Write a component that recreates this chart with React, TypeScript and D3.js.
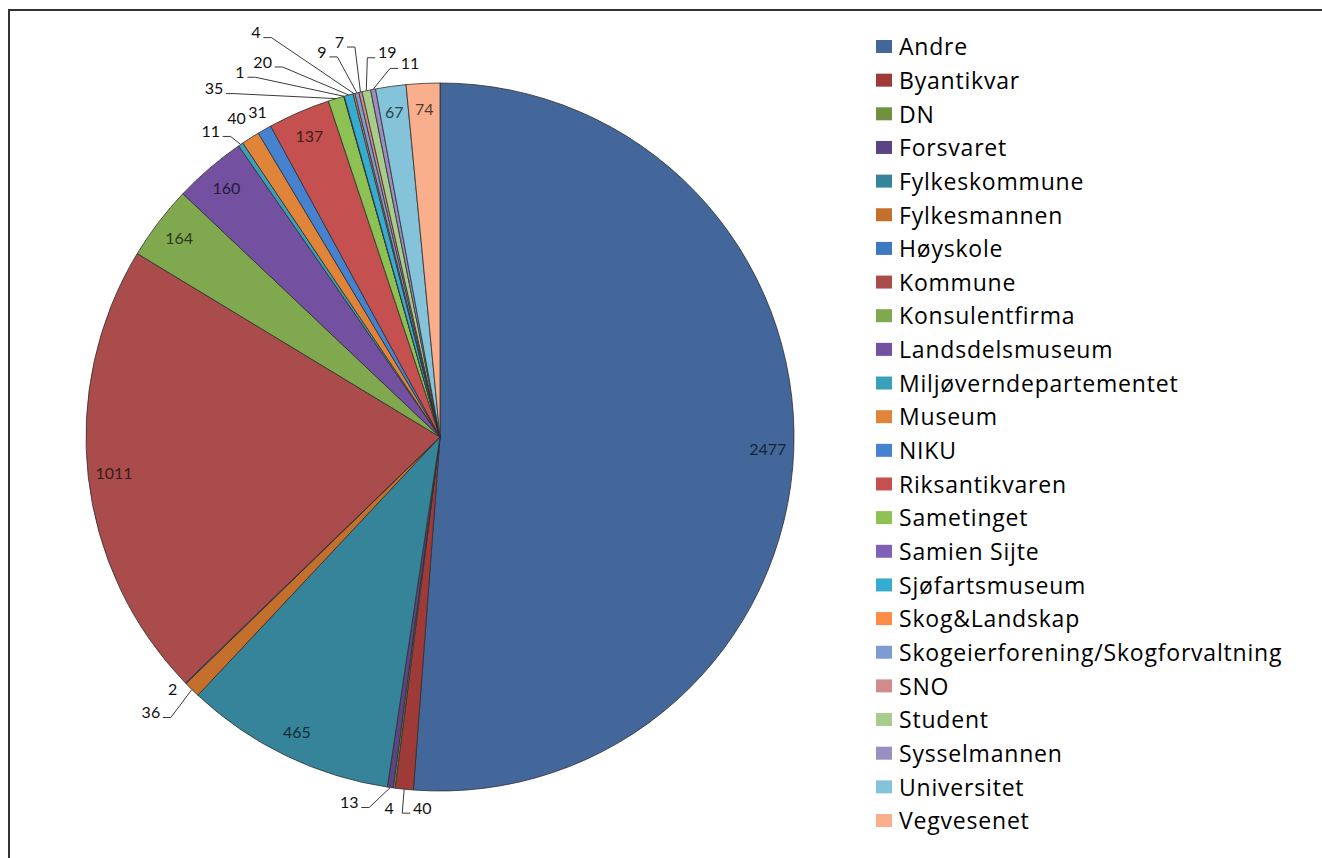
import * as d3 from "d3";

const categories = [
  "Andre", "Byantikvar", "DN", "Forsvaret", "Fylkeskommune", "Fylkesmannen",
  "Høyskole", "Kommune", "Konsulentfirma", "Landsdelsmuseum",
  "Miljøverndepartementet", "Museum", "NIKU", "Riksantikvaren", "Sametinget",
  "Samien Sijte", "Sjøfartsmuseum", "Skog&Landskap",
  "Skogeierforening/Skogforvaltning", "SNO", "Student", "Sysselmannen",
  "Universitet", "Vegvesenet",
];
const counts = [
  2477, 40, 4, 13, 465, 36, 2, 1011, 164, 160, 11, 40, 31, 137, 35, 1, 20, 4,
  9, 7, 19, 11, 67, 74,
];
const sliceColors = [
  "#44679b", "#9e3b38", "#6f9140", "#5b4484", "#35849a", "#c46f2c",
  "#3f78c0", "#a94c4b", "#80a84e", "#7351a0", "#3aa0b9", "#e0843a",
  "#4682d0", "#c45150", "#8ec154", "#7f62b6", "#36add0", "#fb8d48",
  "#7d9cd4", "#d28b8b", "#a8cc8c", "#9b8dc0", "#85c3da", "#f9ae8c",
];

// slices whose value sits inside the pie
const insideNames = [
  "Andre", "Fylkeskommune", "Kommune", "Konsulentfirma", "Landsdelsmuseum",
  "Riksantikvaren", "Universitet", "Vegvesenet",
];

// outside labels: offset from the slice edge, and if a leader line is drawn
const outsidePlacement: Record<string, { dx: number; dy: number; leader: boolean }> = {
  Byantikvar: { dx: 18, dy: 19, leader: true },
  DN: { dx: -5, dy: 20, leader: false },
  Forsvaret: { dx: -41, dy: 15, leader: true },
  Fylkesmannen: { dx: -41, dy: 23, leader: true },
  "Høyskole": { dx: -13, dy: 6, leader: false },
  "Miljøverndepartementet": { dx: -30, dy: -13, leader: true },
  Museum: { dx: -14, dy: -20, leader: false },
  NIKU: { dx: -7, dy: -17, leader: false },
  Sametinget: { dx: -122, dy: -10, leader: true },
  "Samien Sijte": { dx: -104, dy: -24, leader: true },
  "Sjøfartsmuseum": { dx: -86, dy: -33, leader: true },
  "Skog&Landskap": { dx: -98, dy: -61, leader: true },
  "Skogeierforening/Skogforvaltning": { dx: -35, dy: -41, leader: true },
  SNO: { dx: -21, dy: -50, leader: true },
  Student: { dx: 21, dy: -38, leader: true },
  Sysselmannen: { dx: 37, dy: -26, leader: true },
};

const W = 1322;
const H = 858;
const cx = 440;
const cy = 437;
const R = 354;
const FONT = "Lato, 'Open Sans', sans-serif";
const LEGEND_FONT = "'Open Sans', Lato, sans-serif";
const LABEL_SIZE = 16;

export default function App() {
  const pie = d3.pie<number>().sort(null).value((d) => d);
  const slices = pie(counts);
  const arc = d3.arc<d3.PieArcDatum<number>>().innerRadius(0).outerRadius(R);
  const innerLabelArc = d3
    .arc<d3.PieArcDatum<number>>()
    .innerRadius(328)
    .outerRadius(328);
  const edgeArc = d3.arc<d3.PieArcDatum<number>>().innerRadius(R).outerRadius(R);

  const color = d3.scaleOrdinal<string, string>().domain(categories).range(sliceColors);
  const legendY = d3
    .scalePoint<string>()
    .domain(categories)
    .range([47, 821]);

  return (
    <svg
      width={W}
      height={H}
      style={{ position: "absolute", left: 0, top: 0, display: "block", background: "#fff" }}
      fontFamily={FONT}
    >
      <path d={`M9,${H} V10 H${W}`} fill="none" stroke="#333" strokeWidth={2} />

      <g transform={`translate(${cx},${cy})`}>
        {slices.map((s, i) => (
          <path
            key={categories[i]}
            d={arc(s) || ""}
            fill={color(categories[i])}
            stroke="#2e2e2e"
            strokeWidth={0.8}
            strokeLinejoin="round"
          />
        ))}

        {slices.map((s, i) => {
          const name = categories[i];
          if (!insideNames.includes(name)) return null;
          const [x, y] = innerLabelArc.centroid(s);
          return (
            <text
              key={"in" + name}
              x={x}
              y={y}
              dy="0.35em"
              textAnchor="middle"
              fontSize={LABEL_SIZE}
              fill={d3.color(color(name))!.darker(3).formatHex()}
            >
              {counts[i]}
            </text>
          );
        })}

        {slices.map((s, i) => {
          const name = categories[i];
          const p = outsidePlacement[name];
          if (!p) return null;
          const [ax, ay] = edgeArc.centroid(s);
          const lx = ax + p.dx;
          const ly = ay + p.dy;
          const half = (String(counts[i]).length * LABEL_SIZE * 0.56) / 2;
          const leftOfAnchor = lx < ax;
          const endX = leftOfAnchor ? lx + half + 3 : lx - half - 3;
          const endY = ly + 5;
          const elbowX = leftOfAnchor ? endX + 8 : endX - 8;
          return (
            <g key={"out" + name}>
              {p.leader && (
                <polyline
                  points={`${ax},${ay} ${elbowX},${endY} ${endX},${endY}`}
                  fill="none"
                  stroke="#3a3a3a"
                  strokeWidth={1}
                />
              )}
              <text
                x={lx}
                y={ly}
                dy="0.35em"
                textAnchor="middle"
                fontSize={LABEL_SIZE}
                fill="#111"
              >
                {counts[i]}
              </text>
            </g>
          );
        })}
      </g>

      <g fontFamily={LEGEND_FONT}>
        {categories.map((name) => {
          const y = legendY(name)!;
          return (
            <g key={"lg" + name}>
              <rect x={876} y={y - 7} width={16} height={13} fill={color(name)} />
              <text
                x={899}
                y={y}
                dy="0.36em"
                fontSize={23}
                letterSpacing={0.8}
                fill="#000"
              >
                {name}
              </text>
            </g>
          );
        })}
      </g>
    </svg>
  );
}
